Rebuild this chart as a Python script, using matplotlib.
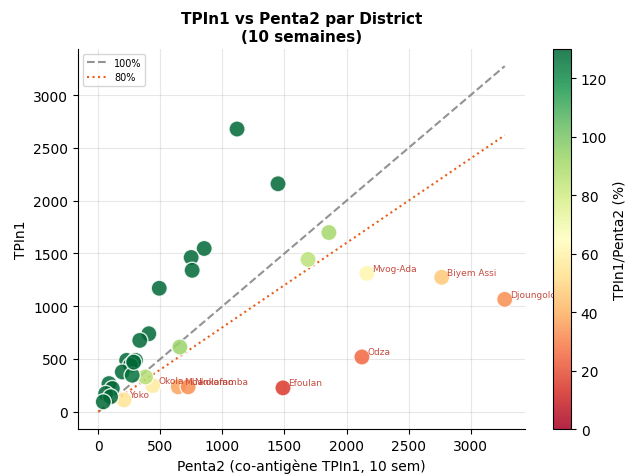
import numpy as np
import matplotlib.pyplot as plt

# donnees (Penta2, TPIn1)
districts = ['Djoungolo', 'Biyem Assi', 'Mvog-Ada', 'Odza', 'Efoulan',
             'Okola', 'Mbankomo', 'Nkolafamba', 'Yoko',
             'D10', 'D11', 'D12', 'D13', 'D14', 'D15', 'D16', 'D17',
             'D18', 'D19', 'D20',
             'D21', 'D22', 'D23', 'D24', 'D25', 'D26', 'D27', 'D28',
             'D29', 'D30', 'D31', 'D32']
penta2 = [3275, 2767, 2164, 2124, 1488,
          438, 644, 724, 207,
          1118, 1448, 853, 748, 756, 491, 1858, 1690,
          657, 380, 407,
          334, 228, 300, 259, 193, 273, 86, 113,
          59, 99, 40, 285]
tpin1 = [1065, 1274, 1311, 519, 226,
         248, 236, 236, 112,
         2679, 2160, 1547, 1462, 1340, 1170, 1698, 1443,
         613, 330, 739,
         676, 487, 487, 440, 377, 346, 267, 220,
         173, 142, 94, 470]

penta2 = np.array(penta2, dtype=float)
tpin1 = np.array(tpin1, dtype=float)
pct = tpin1 / penta2 * 100

fig = plt.figure(figsize=(6.27, 4.77), dpi=100)
ax = fig.add_axes([0.1244, 0.0985, 0.713, 0.797])
cax = fig.add_axes([0.882, 0.0985, 0.0287, 0.797])

sc = ax.scatter(penta2, tpin1, c=pct, cmap='RdYlGn', vmin=0, vmax=130,
                s=135, alpha=0.85, edgecolors='white', linewidths=1, zorder=3)

xmax = penta2.max()
ax.plot([0, xmax], [0, xmax], '--', color='gray', lw=1.5, alpha=0.85, label='100%')
ax.plot([0, xmax], [0, 0.8 * xmax], ':', color='#e8601c', lw=1.5, label='80%')

for i in range(len(districts)):
    if pct[i] < 80:
        ax.annotate(districts[i], (penta2[i], tpin1[i]), xytext=(4, 2),
                    textcoords='offset points', fontsize=6.5, color='#c0392b', alpha=0.9)

cb = fig.colorbar(sc, cax=cax)
cb.set_label('TPIn1/Penta2 (%)')

ax.set_xlabel('Penta2 (co-antigène TPIn1, 10 sem)')
ax.set_ylabel('TPIn1')
ax.set_title('TPIn1 vs Penta2 par District\n(10 semaines)', fontweight='bold', fontsize=11)
ax.legend(loc='upper left', fontsize=7)
ax.grid(True, alpha=0.3)
ax.spines['top'].set_visible(False)
ax.spines['right'].set_visible(False)

plt.savefig('out.png')
